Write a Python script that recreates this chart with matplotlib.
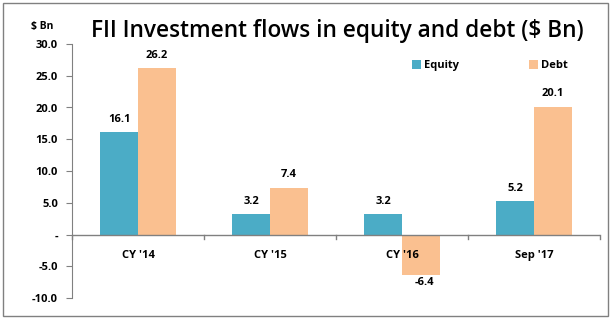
import numpy as np
import matplotlib.pyplot as plt
from matplotlib.patches import Rectangle

categories = ["CY '14", "CY '15", "CY '16", "Sep '17"]
equity = [16.1, 3.2, 3.2, 5.2]
debt = [26.2, 7.4, -6.4, 20.1]
yticks = [-10, -5, 0, 5, 10, 15, 20, 25, 30]

plt.rcParams['font.family'] = ['Open Sans', 'DejaVu Sans']

fig = plt.figure(figsize=(6.12, 3.22), dpi=100)
ax = fig.add_axes([72 / 612, 24 / 322, 528 / 612, 254 / 322])

# outer frame
fig.patches.append(Rectangle((3 / 612, 6 / 322), 605 / 612, 313 / 322, transform=fig.transFigure,
                             fill=False, edgecolor='#808080', linewidth=1))

x = np.arange(len(categories))
w = 0.285
b1 = ax.bar(x - w / 2, equity, w, color='#4BACC6', label='Equity')
b2 = ax.bar(x + w / 2, debt, w, color='#FAC090', label='Debt')

for rect, v in zip(list(b1) + list(b2), equity + debt):
    cx = rect.get_x() + rect.get_width() / 2
    if v >= 0:
        ax.text(cx, v + 1.2, f'{v:.1f}', ha='center', va='bottom', fontsize=8, fontweight='bold')
    else:
        ax.text(cx + 0.03, v - 0.3, f'{v:.1f}', ha='center', va='top', fontsize=8, fontweight='bold')

ax.set_xlim(-0.5, len(categories) - 0.5)
ax.set_ylim(-10, 30)
ax.set_yticks(yticks)
ax.set_yticklabels(['-' if t == 0 else f'{t:.1f}' for t in yticks], fontsize=8, fontweight='bold')
ax.tick_params(axis='y', length=4, color='#808080', pad=6)

ax.set_xticks([])
ax.axhline(0, color='#808080', linewidth=1)
for bx in np.arange(-0.5, len(categories) + 0.5, 1):
    ax.plot([bx, bx], [0, -0.7], color='#808080', linewidth=1, clip_on=False)
for i, c in enumerate(categories):
    ax.text(i, -2.4, c, ha='center', va='top', fontsize=8, fontweight='bold')

for s in ['top', 'right', 'bottom']:
    ax.spines[s].set_visible(False)
ax.spines['left'].set_color('#808080')

fig.text(337 / 612, 1 - 31 / 322, 'FII Investment flows in equity and debt ($ Bn)',
         ha='center', va='center', fontsize=16.3, fontweight='semibold')
fig.text(42 / 612, 1 - 27 / 322, '$ Bn', ha='center', va='center', fontsize=7.5, fontweight='bold')

ax.legend(loc='upper left', bbox_to_anchor=(0.625, 0.975), ncol=2, frameon=False,
          prop={'weight': 'bold', 'size': 8}, handlelength=0.8, handleheight=0.8,
          columnspacing=6.3, handletextpad=0.3)

fig.savefig('out.png', dpi=100)
